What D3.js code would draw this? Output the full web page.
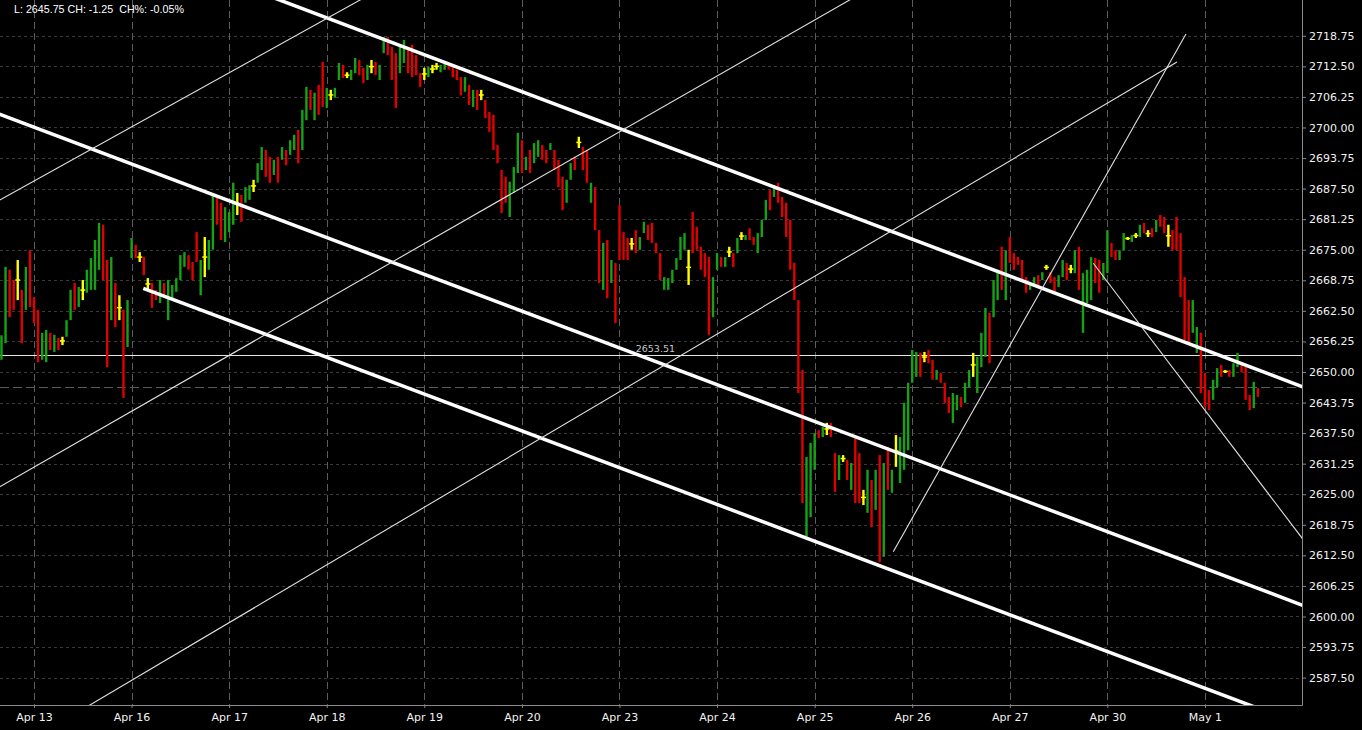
<!DOCTYPE html>
<html><head><meta charset="utf-8">
<script src="https://cdn.jsdelivr.net/npm/d3@7"></script>
<style>
html,body{margin:0;padding:0;background:#000;}
svg{display:block;}
</style></head><body>
<svg id="chart" width="1362" height="730"></svg>
<script>
// ---------- data ----------
const sessionLabels = ["Apr 13","Apr 16","Apr 17","Apr 18","Apr 19","Apr 20","Apr 23","Apr 24","Apr 25","Apr 26","Apr 27","Apr 30","May 1"];
const barsPerSession = 24;
const firstSessionBar = 8;   // bars of the previous session shown before "Apr 13"

const barHigh = [
  // Apr 12 (tail)
  2657.5,2671.5,2670.9,2668.8,2672.9,2666.8,2671.5,2674.9,
  // Apr 13
  2665.3,2662.7,2658.0,2658.6,2658.0,2657.6,2657.0,2657.2,2660.6,2666.8,2668.2,2667.4,2668.8,2670.9,2673.3,2677.0,2680.5,2680.1,2672.9,2673.5,2668.2,2665.7,2662.7,2664.7,
  // Apr 16
  2677.4,2676.0,2674.5,2673.5,2669.2,2668.2,2666.8,2668.8,2668.2,2668.8,2667.8,2669.2,2673.9,2674.5,2673.9,2672.5,2678.6,2672.9,2677.6,2677.0,2686.2,2686.2,2684.6,2683.7,
  // Apr 17
  2682.7,2688.7,2686.6,2686.2,2687.8,2688.2,2689.3,2692.7,2696.0,2695.4,2694.0,2693.4,2694.0,2696.0,2695.4,2697.4,2698.5,2699.5,2703.6,2708.3,2707.7,2707.1,2708.7,2713.4,
  // Apr 18
  2708.1,2707.7,2708.1,2713.2,2712.8,2711.3,2711.8,2714.2,2713.8,2712.2,2712.8,2713.8,2713.4,2712.8,2718.5,2718.5,2716.5,2715.2,2716.9,2717.9,2716.5,2716.9,2714.8,2711.1,
  // Apr 19
  2712.2,2712.4,2712.8,2713.2,2712.8,2713.4,2713.0,2712.8,2711.8,2710.3,2710.3,2708.7,2707.7,2707.7,2707.7,2705.6,2703.2,2702.6,2696.4,2691.3,2689.9,2688.9,2691.9,2698.9,
  // Apr 20
  2697.4,2694.0,2695.4,2696.8,2697.4,2696.4,2695.4,2696.8,2695.4,2693.4,2689.9,2689.3,2692.7,2694.0,2698.1,2696.0,2695.4,2688.7,2687.8,2679.0,2676.4,2677.0,2672.9,2672.3,
  // Apr 23
  2684.1,2678.6,2677.4,2677.4,2679.0,2677.6,2680.7,2680.1,2680.5,2676.4,2674.3,2669.4,2669.2,2670.9,2673.3,2677.6,2678.4,2675.0,2682.7,2679.7,2675.6,2674.3,2673.5,2669.4,
  // Apr 24
  2674.3,2673.5,2673.5,2675.6,2674.3,2677.4,2678.6,2678.0,2679.4,2677.6,2678.4,2681.1,2685.2,2687.2,2688.2,2688.7,2685.8,2684.6,2681.1,2672.3,2664.7,2650.4,2632.6,2635.5,
  // Apr 25
  2637.5,2638.1,2638.8,2639.6,2639.6,2633.4,2633.0,2633.0,2632.0,2631.4,2636.7,2633.4,2625.9,2630.0,2627.9,2630.0,2633.0,2631.4,2634.7,2630.0,2637.1,2636.7,2643.7,2647.8,
  // Apr 26
  2654.5,2654.1,2653.9,2654.1,2654.5,2652.5,2650.4,2649.8,2647.8,2644.9,2645.7,2645.3,2644.9,2647.8,2650.4,2653.9,2653.1,2658.0,2663.1,2662.1,2668.8,2670.9,2675.6,2674.9,
  // Apr 27
  2677.6,2674.3,2673.5,2672.9,2669.4,2668.2,2669.4,2669.8,2670.4,2671.9,2670.4,2669.4,2669.8,2672.9,2672.3,2671.9,2674.9,2675.6,2670.2,2670.9,2673.5,2673.3,2672.9,2672.3,
  // Apr 30
  2679.0,2676.4,2674.9,2674.9,2678.4,2677.6,2678.0,2678.4,2680.1,2680.5,2679.0,2679.4,2681.1,2682.1,2681.7,2680.1,2679.0,2681.7,2678.4,2669.4,2664.7,2664.7,2659.2,2658.0,
  // May 1
  2649.8,2646.3,2648.4,2650.8,2651.4,2650.4,2650.4,2651.8,2653.9,2652.0,2651.0,2645.3,2648.0,2646.7
];

const barLow = [
  // Apr 12 (tail)
  2652.5,2655.9,2661.2,2662.7,2664.7,2655.9,2662.7,2663.3,
  // Apr 13
  2660.0,2652.0,2652.5,2652.0,2654.5,2654.1,2654.5,2655.5,2657.2,2660.6,2662.7,2663.3,2664.7,2666.2,2666.8,2666.8,2670.9,2668.8,2651.0,2660.6,2659.2,2660.6,2644.7,2655.1,
  // Apr 16
  2673.3,2673.3,2672.5,2669.8,2666.8,2663.1,2664.7,2664.1,2665.3,2660.6,2664.7,2666.4,2668.8,2671.5,2670.9,2668.8,2672.5,2665.7,2669.4,2670.9,2675.0,2680.1,2677.0,2676.6,
  // Apr 17
  2678.6,2680.1,2682.1,2680.7,2684.6,2685.2,2686.8,2688.7,2691.3,2689.9,2688.7,2690.3,2688.7,2693.4,2692.3,2694.4,2695.4,2692.7,2695.4,2701.5,2703.6,2701.5,2702.6,2704.2,
  // Apr 18
  2704.0,2705.6,2706.1,2709.7,2710.1,2710.1,2709.7,2711.1,2710.7,2709.1,2709.7,2711.1,2710.7,2709.7,2715.2,2714.8,2709.7,2704.0,2711.1,2713.2,2711.1,2710.3,2710.7,2708.3,
  // Apr 19
  2709.7,2710.3,2711.1,2711.8,2711.3,2711.8,2711.8,2710.3,2709.7,2706.6,2707.3,2704.6,2704.2,2703.6,2705.6,2701.9,2699.1,2695.4,2692.7,2682.5,2684.6,2681.7,2686.6,2690.7,
  // Apr 20
  2690.7,2691.3,2690.7,2692.7,2694.0,2693.4,2692.7,2695.4,2691.3,2687.8,2683.1,2684.6,2689.3,2691.3,2695.8,2691.3,2688.7,2684.6,2679.0,2668.2,2666.8,2665.1,2668.2,2660.0,
  // Apr 23
  2672.9,2672.9,2672.9,2675.0,2674.3,2675.0,2678.4,2677.0,2676.4,2674.3,2668.8,2666.8,2666.8,2668.2,2670.9,2672.9,2675.0,2667.8,2674.3,2675.0,2670.9,2669.4,2657.6,2661.2,
  // Apr 24
  2670.9,2671.5,2671.5,2673.5,2671.5,2674.3,2677.0,2677.0,2677.0,2676.0,2674.3,2677.6,2681.1,2683.1,2685.8,2684.6,2681.7,2677.6,2670.9,2664.7,2645.7,2623.2,2616.3,2620.3,
  // Apr 25
  2630.0,2636.5,2636.7,2637.1,2636.7,2625.5,2627.9,2631.6,2627.9,2625.9,2623.2,2623.2,2622.8,2621.2,2618.3,2621.8,2611.1,2612.2,2625.9,2625.3,2630.6,2627.3,2630.0,2634.0,
  // Apr 26
  2647.8,2649.0,2649.0,2652.0,2651.8,2648.4,2648.4,2647.8,2643.7,2641.6,2639.6,2642.2,2642.8,2643.7,2646.9,2649.0,2645.7,2651.0,2653.1,2651.8,2661.2,2664.7,2666.8,2664.7,
  // Apr 27
  2672.3,2670.9,2671.9,2668.8,2666.2,2666.8,2667.4,2667.8,2668.8,2670.9,2668.2,2666.4,2667.4,2669.4,2668.8,2670.2,2670.2,2666.8,2658.0,2664.1,2664.7,2668.2,2666.2,2668.8,
  // Apr 30
  2670.2,2673.5,2672.9,2672.9,2674.9,2677.0,2676.6,2677.4,2677.6,2678.4,2677.6,2677.6,2678.6,2679.7,2678.4,2675.6,2674.9,2674.9,2665.3,2656.5,2655.9,2658.0,2653.9,2645.7,
  // May 1
  2642.8,2642.2,2644.3,2646.9,2649.0,2649.8,2649.0,2649.0,2651.0,2650.0,2644.3,2642.2,2642.6,2644.9
];

const barDir = [
  "ggrryrgr",
  "rrggrgrygg" + "rgyggggrrg" + "ryrg",
  "gryryrrgrg" + "ggggrrrgyg" + "grrg",
  "ggyrggyggr" + "rgrgrggrgg" + "rgrr",
  "gyggryggrr" + "gyrggrrrgg" + "rrrr",
  "ygyyggrrrr" + "grgryrrrrr" + "rggg",
  "rgrggrrgrr" + "rggryrrgrr" + "grgr",
  "rrryrggrrr" + "rggggggyrr" + "rrrg",
  "grgyrgygrr" + "gggrgrrrrr" + "rrgg",
  "grgyrrgyrg" + "rrygrgrgrg" + "yggg",
  "ggryrrgrrr" + "ggrggygggr" + "ggrg",
  "rrrrrggrgy" + "rrggrygrgg" + "grrg",
  "grrggygygr" + "yrgrryrrrr" + "rggr",
  "rrggryrggr" + "rrgr"
].join("");

const priceTicks = [2587.50,2593.75,2600.00,2606.25,2612.50,2618.75,2625.00,2631.25,2637.50,2643.75,2650.00,2656.25,2662.50,2668.75,2675.00,2681.25,2687.50,2693.75,2700.00,2706.25,2712.50,2718.75];
const priceDomain = [2581.9, 2726.07];

const lastPrice = 2645.75;
const priceChange = -1.25;
const priceChangePct = -0.05;
const prevClose = 2647.00;
const horizontalLevel = 2653.51;
const horizontalLevelLabelBar = 156;

// trend lines: [[barIndex, price], [barIndex, price]]
const thickLines = [
  [[65.13, 2727.10], [325.0, 2645.41]],
  [[-1.59, 2703.05], [325.0, 2600.74]],
  [[34.88, 2667.12], [310.19, 2580.88]]
];
const thinLines = [
  [[-1.59, 2684.62], [89.51, 2726.68]],
  [[-1.59, 2625.97], [209.87, 2726.68]],
  [[19.68, 2580.88], [289.11, 2713.39]],
  [[219.34, 2613.25], [291.33, 2719.12]],
  [[268.53, 2672.23], [321.83, 2613.90]]
];

// ---------- drawing ----------
const W = 1362, H = 730;
const plotRight = 1302, plotBottom = 705;
const svg = d3.select("#chart");
svg.append("rect").attr("width", W).attr("height", H).attr("fill", "#000");

const x = d3.scaleLinear()
  .domain([firstSessionBar, firstSessionBar + barsPerSession * (sessionLabels.length - 1)])
  .range([34, 34 + 97.58 * (sessionLabels.length - 1)]);
const y = d3.scaleLinear().domain(priceDomain).range([plotBottom, 0]);

svg.append("defs").append("clipPath").attr("id", "plotClip")
  .append("rect").attr("x", 0).attr("y", 0).attr("width", plotRight).attr("height", plotBottom);

const sessionTicks = sessionLabels.map((_, i) => firstSessionBar + i * barsPerSession);

// grid
const grid = svg.append("g").attr("clip-path", "url(#plotClip)");
grid.selectAll("line.h").data(priceTicks).join("line")
  .attr("x1", 0).attr("x2", plotRight)
  .attr("y1", d => Math.round(y(d)) + 0.5).attr("y2", d => Math.round(y(d)) + 0.5)
  .attr("stroke", "#3a3a3a").attr("stroke-width", 1).attr("stroke-dasharray", "3,3");
grid.selectAll("line.v").data(sessionTicks).join("line")
  .attr("x1", d => Math.round(x(d)) + 0.5).attr("x2", d => Math.round(x(d)) + 0.5)
  .attr("y1", 0).attr("y2", plotBottom)
  .attr("stroke", "#5c5c5c").attr("stroke-width", 1).attr("stroke-dasharray", "7,4");

// previous close
grid.append("line")
  .attr("x1", 0).attr("x2", plotRight)
  .attr("y1", Math.round(y(prevClose)) + 0.5).attr("y2", Math.round(y(prevClose)) + 0.5)
  .attr("stroke", "#5a5a5a").attr("stroke-dasharray", "9,4");

// horizontal level
grid.append("line")
  .attr("x1", 0).attr("x2", plotRight)
  .attr("y1", Math.round(y(horizontalLevel)) + 0.5).attr("y2", Math.round(y(horizontalLevel)) + 0.5)
  .attr("stroke", "#e6e6e6").attr("stroke-width", 1);
grid.append("text")
  .attr("x", x(horizontalLevelLabelBar)).attr("y", y(horizontalLevel) - 3)
  .attr("fill", "#c8c8c8").attr("font-family", "DejaVu Sans, sans-serif").attr("font-size", 9.5)
  .text(d3.format(".2f")(horizontalLevel));

// bars
const colorOf = { g: "#15a315", r: "#e00000", y: "#ffff00" };
const bars = barHigh.map((h, i) => ({ i, h, l: barLow[i], d: barDir[i] }));
const barG = svg.append("g").attr("clip-path", "url(#plotClip)");
barG.selectAll("line.bar").data(bars).join("line")
  .attr("x1", d => x(d.i)).attr("x2", d => x(d.i))
  .attr("y1", d => y(d.h)).attr("y2", d => y(d.l))
  .attr("stroke", d => colorOf[d.d]).attr("stroke-width", 2.4);
barG.selectAll("line.tick").data(bars.filter(d => d.d === "y")).join("line")
  .attr("x1", d => x(d.i) - 2.5).attr("x2", d => x(d.i) + 2.5)
  .attr("y1", d => y((d.h + d.l) / 2)).attr("y2", d => y((d.h + d.l) / 2))
  .attr("stroke", colorOf.y).attr("stroke-width", 1.5);

// trend lines
const lineG = svg.append("g").attr("clip-path", "url(#plotClip)");
lineG.selectAll("line.thick").data(thickLines).join("line")
  .attr("x1", d => x(d[0][0])).attr("y1", d => y(d[0][1]))
  .attr("x2", d => x(d[1][0])).attr("y2", d => y(d[1][1]))
  .attr("stroke", "#ffffff").attr("stroke-width", 3.5);
lineG.selectAll("line.thin").data(thinLines).join("line")
  .attr("x1", d => x(d[0][0])).attr("y1", d => y(d[0][1]))
  .attr("x2", d => x(d[1][0])).attr("y2", d => y(d[1][1]))
  .attr("stroke", "#e0e0e0").attr("stroke-width", 1.1);

// axes
const axisFont = "DejaVu Sans, sans-serif";
const yAxis = svg.append("g").attr("transform", `translate(${plotRight},0)`)
  .call(d3.axisRight(y).tickValues(priceTicks).tickSize(4).tickPadding(3).tickFormat(d3.format(".2f")));
const xAxis = svg.append("g").attr("transform", `translate(0,${plotBottom})`)
  .call(d3.axisBottom(x).tickValues(sessionTicks).tickSize(3).tickPadding(5).tickFormat((d, i) => sessionLabels[i]));
[yAxis, xAxis].forEach(g => {
  g.select(".domain").remove();
  g.selectAll(".tick line").attr("stroke", "#8a8a8a");
  g.selectAll(".tick text").attr("fill", "#f2f2f2").attr("font-family", axisFont).attr("font-size", 11);
});
svg.append("line").attr("x1", plotRight + 0.5).attr("x2", plotRight + 0.5).attr("y1", 0).attr("y2", plotBottom + 0.5)
  .attr("stroke", "#8a8a8a");
svg.append("line").attr("x1", 0).attr("x2", plotRight + 0.5).attr("y1", plotBottom + 0.5).attr("y2", plotBottom + 0.5)
  .attr("stroke", "#8a8a8a");

// header (plain hyphen-minus as in the original)
const f2 = v => d3.format(".2f")(v).replace("\u2212", "-");
svg.append("text").attr("x", 14).attr("y", 13)
  .attr("fill", "#ffffff").attr("font-family", "Liberation Sans, Arial, sans-serif").attr("font-size", 10.7)
  .style("white-space", "pre")
  .text(`L: ${f2(lastPrice)} CH: ${f2(priceChange)}  CH%: ${f2(priceChangePct)}%`);
</script>
</body></html>
